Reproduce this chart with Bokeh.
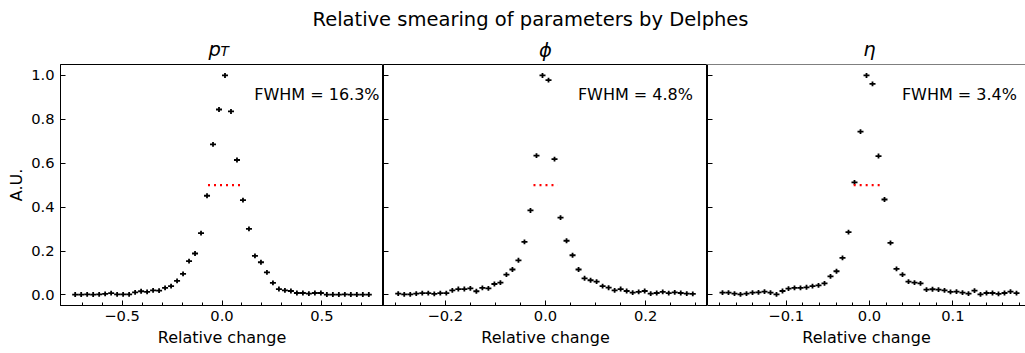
import numpy as np
from bokeh.plotting import figure
from bokeh.layouts import column, row
from bokeh.models import (Range1d, FixedTicker, CustomJSTickFormatter, Label,
                          ColumnDataSource, Span)
from bokeh.embed import file_html
from bokeh.resources import INLINE

# ---------------- data ----------------
suptitle = "Relative smearing of parameters by Delphes"
x_label = "Relative change"
y_label = "A.U."
y_ticks = [0.0, 0.2, 0.4, 0.6, 0.8, 1.0]

pt_half_range = 0.75
pt_values = [0.002, 0.002, 0.003, 0.002, 0.003, 0.005, 0.008, 0.003, 0.003, 0.003,
             0.012, 0.017, 0.014, 0.021, 0.020, 0.032, 0.040, 0.064, 0.096, 0.154,
             0.189, 0.282, 0.452, 0.686, 0.845, 1.000, 0.836, 0.615, 0.432, 0.301,
             0.178, 0.149, 0.103, 0.055, 0.027, 0.021, 0.018, 0.009, 0.009, 0.006,
             0.009, 0.009, 0.002, 0.002, 0.002, 0.003, 0.002, 0.002, 0.002, 0.002]
pt_fwhm = [-0.070, 0.093]
pt_fwhm_text = "FWHM = 16.3%"
pt_major = [-0.5, 0.0, 0.5]
pt_minor = [-0.7, -0.6, -0.4, -0.3, -0.2, -0.1, 0.1, 0.2, 0.3, 0.4, 0.6, 0.7]

phi_half_range = 0.3
phi_values = [0.006, 0.003, 0.003, 0.006, 0.008, 0.008, 0.005, 0.008, 0.008, 0.021,
              0.027, 0.027, 0.030, 0.017, 0.032, 0.030, 0.050, 0.056, 0.093, 0.116,
              0.158, 0.242, 0.385, 0.635, 1.000, 0.979, 0.619, 0.352, 0.247, 0.181,
              0.116, 0.076, 0.067, 0.061, 0.040, 0.033, 0.021, 0.027, 0.018, 0.011,
              0.014, 0.018, 0.006, 0.009, 0.014, 0.008, 0.012, 0.009, 0.006, 0.005]
phi_fwhm = [-0.024, 0.024]
phi_fwhm_text = "FWHM = 4.8%"
phi_major = [-0.2, 0.0, 0.2]
phi_minor = [-0.3, -0.25, -0.15, -0.1, -0.05, 0.05, 0.1, 0.15, 0.25, 0.3]

eta_half_range = 0.18
eta_values = [0.011, 0.011, 0.006, 0.003, 0.006, 0.011, 0.012, 0.015, 0.011, 0.003,
              0.018, 0.029, 0.032, 0.032, 0.035, 0.040, 0.044, 0.053, 0.085, 0.108,
              0.169, 0.286, 0.513, 0.744, 1.000, 0.962, 0.633, 0.435, 0.237, 0.119,
              0.093, 0.061, 0.056, 0.053, 0.024, 0.026, 0.024, 0.021, 0.014, 0.015,
              0.011, 0.006, 0.020, 0.003, 0.009, 0.009, 0.005, 0.009, 0.015, 0.008]
eta_fwhm = [-0.019, 0.015]
eta_fwhm_text = "FWHM = 3.4%"
eta_major = [-0.1, 0.0, 0.1]
eta_minor = [-0.18, -0.16, -0.14, -0.12, -0.08, -0.06, -0.04, -0.02,
             0.02, 0.04, 0.06, 0.08, 0.12, 0.14, 0.16, 0.18]

# ---------------- styling ----------------
FONT = "DejaVu Sans"
Y_RANGE = (-0.048, 1.05)
Y_ERR = 0.011
TOTAL_H = 353
HEADER_H = 64                 # frame tops at y = 64
FRAME_H = 241
BOTTOM = TOTAL_H - HEADER_H - FRAME_H

fmt_code = "return tick.toFixed(1).replace('-', '\\u2212');"


def make_panel(values, half_range, xr, frame_w, major, minor, fwhm, fwhm_text,
               first=False, last=False):
    n = len(values)
    w = 2 * half_range / n
    centers = -half_range + w / 2 + w * np.arange(n)
    vals = np.array(values)
    src = ColumnDataSource(dict(x=centers, y=vals, x0=centers - w / 2, x1=centers + w / 2,
                                y0=vals - Y_ERR, y1=vals + Y_ERR))
    p = figure(frame_width=frame_w, frame_height=FRAME_H,
               x_range=Range1d(*xr), y_range=Range1d(*Y_RANGE),
               output_backend="svg", toolbar_location=None,
               min_border_left=60 if first else 0, min_border_right=0,
               min_border_top=0, min_border_bottom=BOTTOM)
    p.xgrid.visible = False
    p.ygrid.visible = False
    p.background_fill_color = "white"
    p.border_fill_color = "white"
    if last:
        p.outline_line_color = None
        p.add_layout(Span(location=Y_RANGE[1], dimension="width",
                          line_color="black", line_width=1))
    else:
        p.outline_line_color = "black"
        p.outline_line_width = 1
        p.outline_line_alpha = 1

    p.segment(x0="x0", y0="y", x1="x1", y1="y", source=src, line_color="black", line_width=1.8)
    p.segment(x0="x", y0="y0", x1="x", y1="y1", source=src, line_color="black", line_width=1.8)

    p.line(x=fwhm, y=[0.5, 0.5], line_color="red", line_width=2.2, line_dash="2 4")

    for ax in (p.xaxis[0], p.yaxis[0]):
        ax.axis_line_color = "black"
        ax.major_tick_in = 5
        ax.major_tick_out = 0
        ax.minor_tick_in = 3
        ax.minor_tick_out = 0
        ax.major_tick_line_color = "black"
        ax.minor_tick_line_color = "black"
        ax.major_label_text_color = "black"
        ax.major_label_text_font = FONT
        ax.major_label_text_font_size = "14.7px"
        ax.axis_label_text_font = FONT
        ax.axis_label_text_font_size = "16px"
        ax.axis_label_text_font_style = "normal"
        ax.axis_label_text_color = "black"

    p.xaxis.ticker = FixedTicker(ticks=major, minor_ticks=minor)
    p.xaxis.formatter = CustomJSTickFormatter(code=fmt_code)
    p.xaxis.major_label_standoff = 5
    p.xaxis.axis_label = x_label
    p.xaxis.axis_label_standoff = 4

    p.yaxis.ticker = FixedTicker(ticks=y_ticks, minor_ticks=[])
    if first:
        p.yaxis.formatter = CustomJSTickFormatter(code=fmt_code)
        p.yaxis.major_label_standoff = 6
        p.yaxis.axis_label = y_label
        p.yaxis.axis_label_standoff = 2
    else:
        p.yaxis.formatter = CustomJSTickFormatter(code="return '';")
        p.yaxis.major_label_standoff = 0
        p.yaxis.major_label_text_font_size = "0px"

    if last:
        full = (xr[0], -xr[0])   # the panel is cropped on the right in the reference
    else:
        full = xr
    tx = full[0] + 0.6 * (full[1] - full[0])
    ty = Y_RANGE[0] + 0.85 * (Y_RANGE[1] - Y_RANGE[0])
    p.add_layout(Label(x=tx, y=ty, y_offset=6, text=fwhm_text, text_font=FONT,
                       text_font_size="16px", text_color="black",
                       text_align="left", text_baseline="alphabetic"))
    return p


p1 = make_panel(pt_values, pt_half_range, (-0.8085, 0.8085), 323, pt_major, pt_minor,
                pt_fwhm, pt_fwhm_text, first=True)
p2 = make_panel(phi_values, phi_half_range, (-0.3234, 0.3234), 324, phi_major, phi_minor,
                phi_fwhm, phi_fwhm_text)
p3 = make_panel(eta_values, eta_half_range, (-0.1944, 0.1872), 318, eta_major, eta_minor,
                eta_fwhm, eta_fwhm_text, last=True)

# ---------------- header with the overall title and panel titles ----------------
header = figure(width=1025, height=HEADER_H, x_range=Range1d(0, 1025), y_range=Range1d(0, HEADER_H),
                output_backend="svg", toolbar_location=None, min_border=0,
                x_axis_location=None, y_axis_location=None, outline_line_color=None)
header.xgrid.visible = False
header.ygrid.visible = False


def head_label(x, ytop, text, size, style="normal", align="left"):
    header.add_layout(Label(x=x, y=HEADER_H - ytop, x_units="screen", y_units="screen",
                            text=text, text_font=FONT, text_font_style=style,
                            text_font_size=size, text_color="black",
                            text_align=align, text_baseline="alphabetic"))


head_label(530, 19, suptitle, "19.5px", align="center")
head_label(208, 48.5, "p", "19.5px", style="italic")
head_label(220, 50.5, "T", "13.7px", style="italic")
head_label(545, 50, "\u03d5", "19.5px", style="italic", align="center")
head_label(869, 48.5, "\u03b7", "19.5px", style="italic", align="center")

layout = column(header, row(p1, p2, p3, spacing=0), spacing=0)
open("out.html", "w").write(file_html(layout, INLINE))
